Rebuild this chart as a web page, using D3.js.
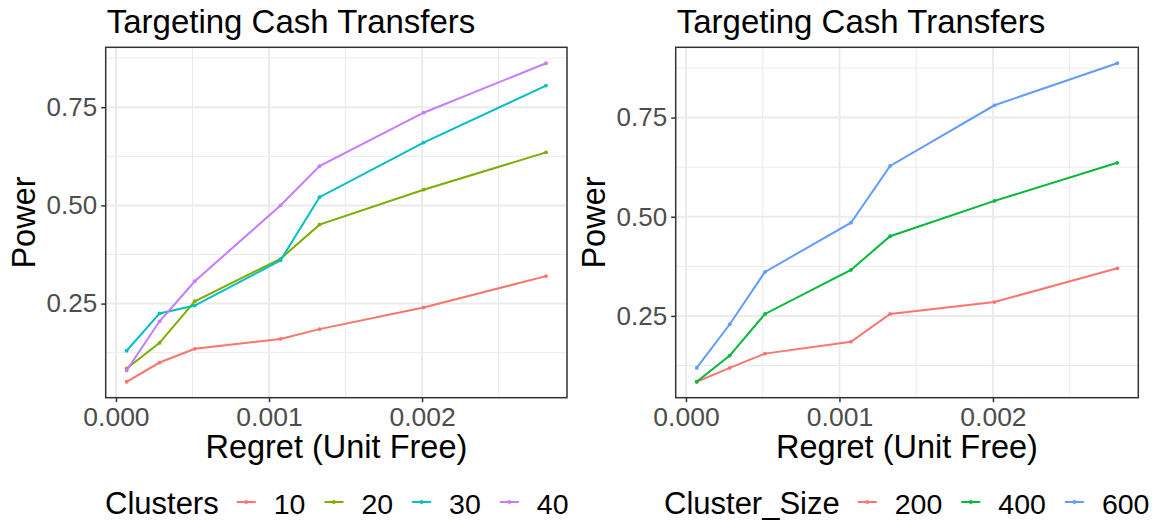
<!DOCTYPE html>
<html>
<head>
<meta charset="utf-8">
<script src="https://cdn.jsdelivr.net/npm/d3@7"></script>
<style>
  html, body { margin: 0; padding: 0; background: #fff; }
  svg { display: block; }
  text { font-family: "Liberation Sans", Arial, Helvetica, sans-serif; }
</style>
</head>
<body>
<div id="chart"></div>
<script>
// ---------- data ----------
const regret = [0.00007, 0.000285, 0.000515, 0.001075, 0.00133, 0.00201, 0.00281];

const clusterLevels = ["10", "20", "30", "40"];
const power10 = [0.051, 0.100, 0.135, 0.160, 0.185, 0.240, 0.320];
const power20 = [0.085, 0.150, 0.256, 0.364, 0.451, 0.540, 0.635];
const power30 = [0.130, 0.225, 0.245, 0.360, 0.521, 0.660, 0.805];
const power40 = [0.080, 0.205, 0.307, 0.500, 0.600, 0.736, 0.862];

const sizeLevels = ["200", "400", "600"];
const power200 = [0.084, 0.119, 0.155, 0.185, 0.255, 0.285, 0.370];
const power400 = [0.084, 0.150, 0.255, 0.366, 0.451, 0.540, 0.636];
const power600 = [0.119, 0.229, 0.361, 0.485, 0.628, 0.781, 0.887];

const xTicks = [0, 0.001, 0.002];
const xTickLabels = ["0.000", "0.001", "0.002"];
const yTicks = [0.25, 0.5, 0.75];
const yTickLabels = ["0.25", "0.50", "0.75"];
const xMinor = [0.0005, 0.0015, 0.0025];
const yMinor = [0.125, 0.375, 0.625, 0.875];

const colors4 = ["#F8766D", "#7CAE00", "#00BFC4", "#C77CFF"];
const colors3 = ["#F8766D", "#00BA38", "#619CFF"];

const W = 1157, H = 523;
const svg = d3.select("#chart").append("svg").attr("width", W).attr("height", H);

function panel(opts) {
  const { left, right, top, bottom, series, colors, levels, legendTitle, legendX } = opts;
  const allY = series.flat();
  const xExt = d3.extent(regret), yExt = d3.extent(allY);
  const xPad = (xExt[1] - xExt[0]) * 0.05, yPad = (yExt[1] - yExt[0]) * 0.05;
  const x = d3.scaleLinear().domain([xExt[0] - xPad, xExt[1] + xPad]).range([left, right]);
  const y = d3.scaleLinear().domain([yExt[0] - yPad, yExt[1] + yPad]).range([bottom, top]);

  const g = svg.append("g");
  g.append("rect").attr("x", left).attr("y", top).attr("width", right - left).attr("height", bottom - top).attr("fill", "#fff");

  // minor grid
  g.selectAll(".xminor").data(xMinor.filter(v => x(v) > left && x(v) < right)).join("line")
    .attr("x1", d => x(d)).attr("x2", d => x(d)).attr("y1", top).attr("y2", bottom)
    .attr("stroke", "#EBEBEB").attr("stroke-width", 1);
  g.selectAll(".yminor").data(yMinor.filter(v => y(v) > top && y(v) < bottom)).join("line")
    .attr("y1", d => y(d)).attr("y2", d => y(d)).attr("x1", left).attr("x2", right)
    .attr("stroke", "#EBEBEB").attr("stroke-width", 1);
  // major grid
  g.selectAll(".xmajor").data(xTicks).join("line")
    .attr("x1", d => x(d)).attr("x2", d => x(d)).attr("y1", top).attr("y2", bottom)
    .attr("stroke", "#EBEBEB").attr("stroke-width", 2);
  g.selectAll(".ymajor").data(yTicks).join("line")
    .attr("y1", d => y(d)).attr("y2", d => y(d)).attr("x1", left).attr("x2", right)
    .attr("stroke", "#EBEBEB").attr("stroke-width", 2);

  // lines
  const line = d3.line().x((d, i) => x(regret[i])).y(d => y(d));
  series.forEach((s, k) => {
    g.append("path").datum(s).attr("d", line).attr("fill", "none")
      .attr("stroke", colors[k]).attr("stroke-width", 2);
    g.selectAll(null).data(s).join("circle")
      .attr("cx", (d, i) => x(regret[i])).attr("cy", d => y(d)).attr("r", 1.9)
      .attr("fill", colors[k]);
  });

  // border
  g.append("rect").attr("x", left).attr("y", top).attr("width", right - left).attr("height", bottom - top)
    .attr("fill", "none").attr("stroke", "#333333").attr("stroke-width", 1.5);

  // axes
  const xAxis = d3.axisBottom(x).tickValues(xTicks).tickFormat((d, i) => xTickLabels[i]).tickSize(4.5).tickPadding(5);
  const xg = g.append("g").attr("transform", `translate(0,${bottom})`).call(xAxis);
  xg.select(".domain").remove();
  xg.selectAll(".tick line").attr("stroke", "#333333").attr("stroke-width", 1.5);
  xg.selectAll(".tick text").attr("fill", "#4D4D4D").style("font-size", "26.5px")
    .style("font-family", '"Liberation Sans", Arial, sans-serif');

  const yAxis = d3.axisLeft(y).tickValues(yTicks).tickFormat((d, i) => yTickLabels[i]).tickSize(4.5).tickPadding(4);
  const yg = g.append("g").attr("transform", `translate(${left},0)`).call(yAxis);
  yg.select(".domain").remove();
  yg.selectAll(".tick line").attr("stroke", "#333333").attr("stroke-width", 1.5);
  yg.selectAll(".tick text").attr("fill", "#4D4D4D").style("font-size", "26px")
    .style("font-family", '"Liberation Sans", Arial, sans-serif');

  // titles
  g.append("text").attr("x", left + 1).attr("y", 33).text("Targeting Cash Transfers")
    .style("font-size", "33px").attr("fill", "#000");
  g.append("text").attr("x", (left + right) / 2).attr("y", 458).attr("text-anchor", "middle")
    .text("Regret (Unit Free)").style("font-size", "32.5px").attr("fill", "#000");
  g.append("text").attr("transform", `translate(${left - 71},${(top + bottom) / 2}) rotate(-90)`)
    .attr("text-anchor", "middle").text("Power").style("font-size", "32.5px").attr("fill", "#000");

  // legend
  const ly = 514, keyY = 502;
  let cx = legendX;
  const t = g.append("text").attr("x", cx).attr("y", ly).text(legendTitle).style("font-size", "31px").attr("fill", "#000");
  cx += t.node().getComputedTextLength() + 18;
  levels.forEach((lv, k) => {
    g.append("line").attr("x1", cx).attr("x2", cx + 19).attr("y1", keyY).attr("y2", keyY)
      .attr("stroke", colors[k]).attr("stroke-width", 2);
    g.append("circle").attr("cx", cx + 9.5).attr("cy", keyY).attr("r", 1.9).attr("fill", colors[k]);
    cx += 19 + 18;
    const lt = g.append("text").attr("x", cx).attr("y", ly).text(lv).style("font-size", "28.5px").attr("fill", "#000");
    cx += lt.node().getComputedTextLength() + 19;
  });
}

panel({
  left: 105.7, right: 567, top: 47.3, bottom: 397.7,
  series: [power10, power20, power30, power40], colors: colors4, levels: clusterLevels,
  legendTitle: "Clusters", legendX: 105
});
panel({
  left: 675.7, right: 1138.3, top: 47.3, bottom: 397.7,
  series: [power200, power400, power600], colors: colors3, levels: sizeLevels,
  legendTitle: "Cluster_Size", legendX: 664
});
</script>
</body>
</html>
